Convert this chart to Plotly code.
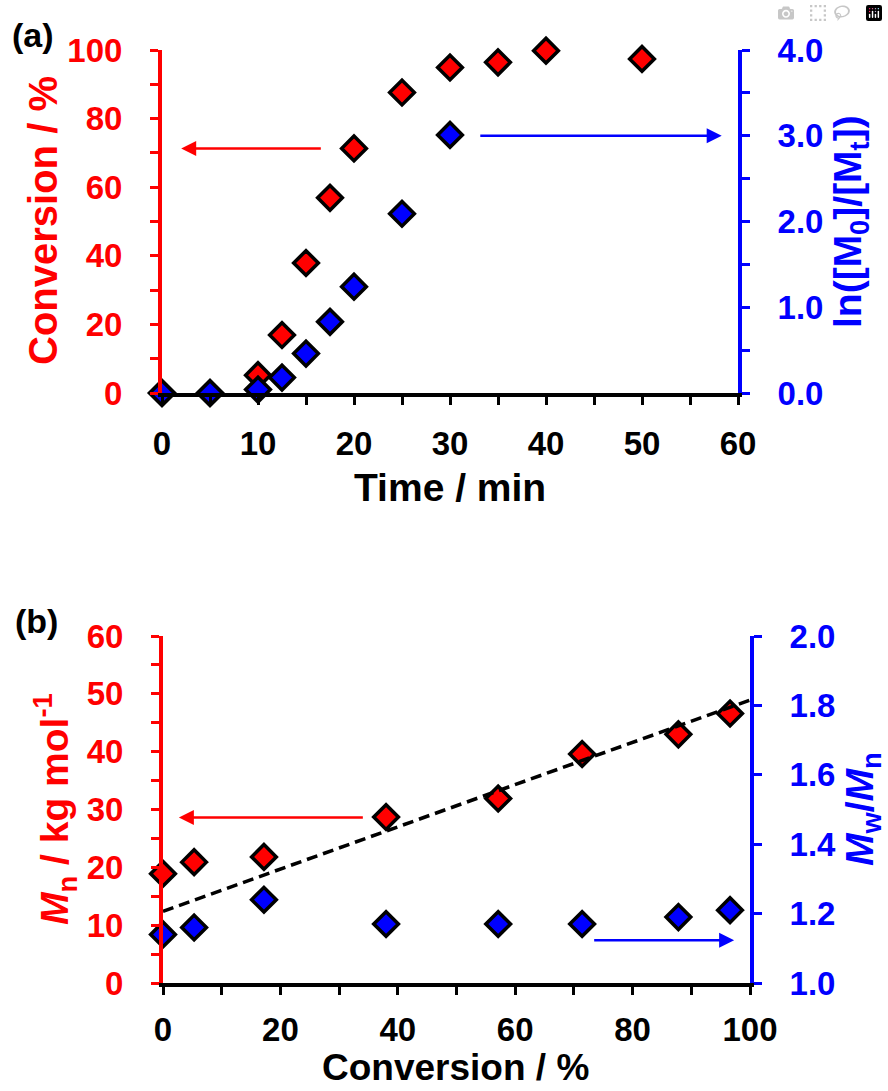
import plotly.graph_objects as go

# ---------------- data ----------------
time_conv = [0, 5, 10, 12.5, 15, 17.5, 20, 25, 30, 35, 40, 50]
conversion = [0, 0, 5.2, 16.9, 37.9, 56.9, 71.3, 87.6, 94.9, 96.4, 99.8, 97.4]
time_ln = [0, 5, 10, 12.5, 15, 17.5, 20, 25, 30]
ln_m0_mt = [0, 0, 0.04, 0.18, 0.46, 0.83, 1.24, 2.09, 3.01]

conv_b = [0, 5.3, 17.2, 38.0, 57.1, 71.4, 87.8, 96.6]
mn_kg = [18.9, 20.9, 21.8, 28.7, 31.9, 39.6, 43.0, 46.6]
dispersity = [1.14, 1.16, 1.24, 1.17, 1.17, 1.17, 1.19, 1.21]
theory_conv = [0, 100]
theory_mn = [12.4, 48.9]

RED = "#FF0000"
BLUE = "#0000FF"
FONT = "Liberation Sans"
W, H = 888, 1091

fig = go.Figure()

mk = lambda c: dict(symbol="diamond", size=19, color=c, line=dict(color="black", width=3.5))

# panel (a)
fig.add_trace(go.Scatter(x=time_conv, y=conversion, mode="markers", marker=mk(RED),
                         xaxis="x", yaxis="y", cliponaxis=False, name="Conversion"))
fig.add_trace(go.Scatter(x=time_ln, y=ln_m0_mt, mode="markers", marker=mk(BLUE),
                         xaxis="x", yaxis="y2", cliponaxis=False, name="ln([M0]/[Mt])"))
# panel (b)
fig.add_trace(go.Scatter(x=conv_b, y=mn_kg, mode="markers", marker=mk(RED),
                         xaxis="x2", yaxis="y3", cliponaxis=False, name="Mn"))
fig.add_trace(go.Scatter(x=theory_conv, y=theory_mn, mode="lines",
                         line=dict(color="black", width=3.5, dash="11px,6px"),
                         xaxis="x2", yaxis="y3", cliponaxis=False, name="theory"))
fig.add_trace(go.Scatter(x=conv_b, y=dispersity, mode="markers", marker=mk(BLUE),
                         xaxis="x2", yaxis="y4", cliponaxis=False, name="Mw/Mn"))

tickfont = lambda c: dict(family=FONT, size=33, color=c, weight="bold")
common = dict(showgrid=False, zeroline=False, showline=True, linewidth=4, automargin=False,
              ticks="outside", ticklen=8, tickwidth=3, fixedrange=True)

def minor(dt, c):
    return dict(dtick=dt, ticks="outside", ticklen=8, tickwidth=3, tickcolor=c, showgrid=False)

fig.update_layout(
    width=W, height=H, margin=dict(l=0, r=0, t=0, b=0, autoexpand=False),
    paper_bgcolor="white", plot_bgcolor="rgba(0,0,0,0)", showlegend=False,
    xaxis=dict(domain=[162 / W, 738 / W], anchor="y", range=[0, 60], dtick=10,
               linecolor="black", tickcolor="black", tickfont=tickfont("black"),
               minor=minor(5, "black"), ticklabelstandoff=10, **common),
    yaxis=dict(domain=[1 - 393 / H, 1 - 50 / H], anchor="x", range=[0, 100], dtick=20,
               linecolor=RED, tickcolor=RED, tickfont=tickfont(RED),
               minor=minor(10, RED), ticklabelstandoff=21, **common),
    yaxis2=dict(overlaying="y", side="right", anchor="x", range=[0, 4], dtick=1,
                tickformat=".1f", linecolor=BLUE, tickcolor=BLUE, tickfont=tickfont(BLUE),
                minor=minor(0.5, BLUE), ticklabelstandoff=21, **common),
    xaxis2=dict(domain=[163 / W, 750 / W], anchor="y3", range=[0, 100], dtick=20,
                linecolor="black", tickcolor="black", tickfont=tickfont("black"),
                minor=minor(10, "black"), ticklabelstandoff=6, **common),
    yaxis3=dict(domain=[1 - 983 / H, 1 - 636 / H], anchor="x2", range=[0, 60], dtick=10,
                linecolor=RED, tickcolor=RED, tickfont=tickfont(RED),
                minor=minor(5, RED), ticklabelstandoff=21, **common),
    yaxis4=dict(overlaying="y3", side="right", anchor="x2", range=[1.0, 2.0], dtick=0.2,
                tickformat=".1f", linecolor=BLUE, tickcolor=BLUE, tickfont=tickfont(BLUE),
                ticklabelstandoff=21, **common),
)

def label(text, px, py, color, size=39, angle=0):
    fig.add_annotation(text=text, x=px / W, y=1 - py / H, xref="paper", yref="paper",
                       xanchor="center", yanchor="middle", showarrow=False, textangle=angle,
                       borderpad=0,
                       font=dict(family=FONT, size=size, color=color, weight="bold"))

label("(a)", 33, 35, "black", size=34)
label("(b)", 36, 621, "black", size=34)
label("Conversion / %", 43, 221, RED, size=40, angle=-90)
label("ln([M<sub>0</sub>]/[M<sub>t</sub>])", 850, 222, BLUE, angle=-90)
label("Time / min", 450, 487, "black")
label("<i>M</i><sub>n</sub> / kg mol<sup>-1</sup>", 55, 809, RED, angle=-90)
label("<i>M</i><sub>w</sub>/<i>M</i><sub>n</sub>", 862, 809, BLUE, angle=-90)
label("Conversion / %", 455, 1067, "black", size=37)

def arrow(x0, x1, y, xr, yr, color):
    fig.add_annotation(x=x1, y=y, ax=x0, ay=y, xref=xr, yref=yr, axref=xr, ayref=yr,
                       text="", showarrow=True, arrowhead=2, arrowsize=1.2, arrowwidth=2.5,
                       arrowcolor=color)

arrow(16.7, 2.0, 71.3, "x", "y", RED)
arrow(33.0, 58.3, 3.0, "x", "y2", BLUE)
arrow(34.3, 2.7, 28.6, "x2", "y3", RED)
arrow(73.2, 97.3, 1.123, "x2", "y4", BLUE)

fig.write_html("out.html", post_script="document.body.style.margin='0';")
